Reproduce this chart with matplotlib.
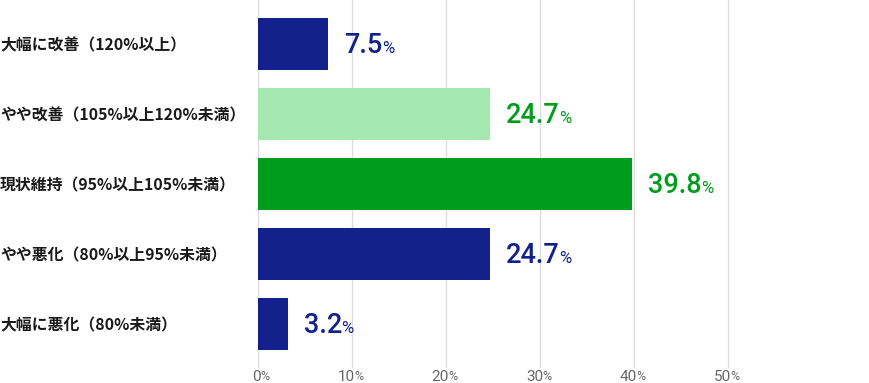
import matplotlib
matplotlib.use("Agg")
import matplotlib.pyplot as plt

categories = ["大幅に改善（120%以上）", "やや改善（105%以上120%未満）", "現状維持（95%以上105%未満）",
              "やや悪化（80%以上95%未満）", "大幅に悪化（80%未満）"]
values = [7.5, 24.7, 39.8, 24.7, 3.2]
bar_colors = ["#12218b", "#a5e9b0", "#009c1b", "#12218b", "#12218b"]
label_colors = ["#12218b", "#009c1b", "#009c1b", "#12218b", "#12218b"]
xticks = [0, 10, 20, 30, 40, 50]

W, H, DPI = 870, 383, 100
fig = plt.figure(figsize=(W / DPI, H / DPI), dpi=DPI)
left_px, right_px, top_px, bottom_px = 258, 870, 0, 368
ax = fig.add_axes([left_px / W, 1 - bottom_px / H, (right_px - left_px) / W, (bottom_px - top_px) / H])

px_per_pct = 9.4
ax.set_xlim(0, (right_px - left_px) / px_per_pct)
ax.set_ylim(4.63, -0.629)

ypos = list(range(len(categories)))
ax.barh(ypos, values, height=52 / 70, color=bar_colors, zorder=2)

for s in ax.spines.values():
    s.set_visible(False)

for xt in xticks:
    ax.axvline(xt, color="#dddddd", lw=1, zorder=0)

ax.set_xticks([])
ax.set_yticks(ypos)
ax.set_yticklabels(categories, fontfamily=["Noto Sans CJK JP", "DejaVu Sans"], fontweight="bold",
                   fontsize=11.4, color="#1a1a1a", ha="left")
ax.tick_params(axis="y", length=0, pad=left_px * 72 / DPI)

# x tick labels: number + small %
for xt in xticks:
    t = ax.annotate(str(xt), xy=(xt, 0), xycoords=("data", "axes fraction"),
                    xytext=(2.2, -6.5), textcoords="offset points", ha="right", va="center",
                    fontsize=11, color="#666666", fontfamily="Roboto")
    ax.annotate("%", xy=(1, 0), xycoords=t, xytext=(-0.4, 0.8), textcoords="offset points",
                ha="left", va="bottom", fontsize=9, color="#666666", fontfamily="Roboto")

# value labels
for i, (v, c) in enumerate(zip(values, label_colors)):
    t = ax.annotate(f"{v}", xy=(v, i), xycoords="data", xytext=(11.5, -1), textcoords="offset points",
                    ha="left", va="center", fontsize=19.5, color=c, fontfamily="Roboto", fontweight="medium")
    ax.annotate("%", xy=(1, 0), xycoords=t, xytext=(-0.6, 1.8), textcoords="offset points",
                ha="left", va="bottom", fontsize=12, color=c, fontfamily="Roboto")

fig.savefig("out.png", dpi=DPI)
